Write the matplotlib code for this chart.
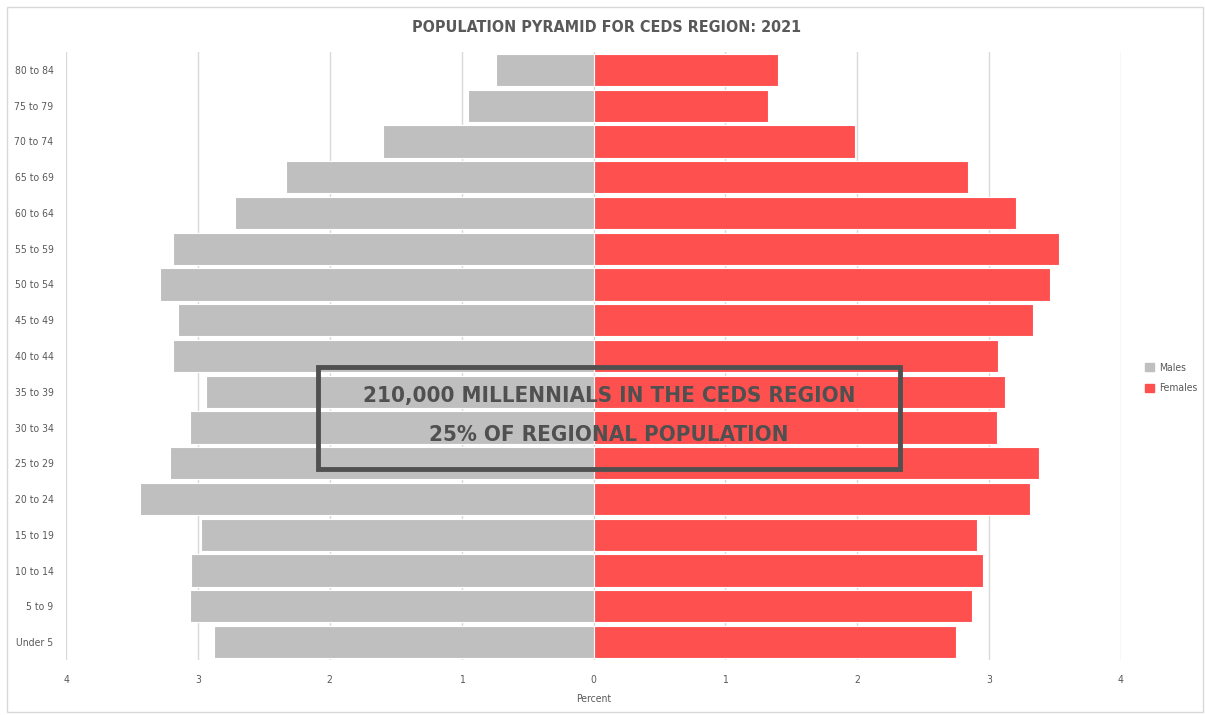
import numpy as np
import matplotlib.pyplot as plt
from matplotlib.patches import Rectangle, Patch

# Age groups, bottom to top
grupos = ['Under 5', '5 to 9', '10 to 14', '15 to 19', '20 to 24', '25 to 29',
          '30 to 34', '35 to 39', '40 to 44', '45 to 49', '50 to 54', '55 to 59',
          '60 to 64', '65 to 69', '70 to 74', '75 to 79', '80 to 84']

# Percent of total population
hombres = [2.88, 3.06, 3.05, 2.98, 3.44, 3.21, 3.06, 2.94, 3.19, 3.15, 3.29, 3.19,
           2.72, 2.33, 1.60, 0.95, 0.74]
mujeres = [2.75, 2.87, 2.95, 2.91, 3.31, 3.38, 3.06, 3.12, 3.07, 3.33, 3.46, 3.53,
           3.20, 2.84, 1.98, 1.32, 1.40]

ticks_x = [-4, -3, -2, -1, 0, 1, 2, 3, 4]

gris = '#BFBFBF'
rojo = '#FF5050'
texto = '#595959'

plt.rcParams['font.family'] = ['DejaVu Sans']
plt.rcParams['font.stretch'] = 'condensed'

fig = plt.figure(figsize=(12.05, 7.15), dpi=100)
ax = fig.add_axes([66 / 1205, 1 - 660 / 715, (1121 - 66) / 1205, 608 / 715])

y = np.arange(len(grupos))
ax.barh(y, -np.array(hombres), height=0.9, color=gris, edgecolor='white',
        linewidth=0.8, label='Males', zorder=2)
ax.barh(y, mujeres, height=0.9, color=rojo, edgecolor='white',
        linewidth=0.8, label='Females', zorder=2)

ax.set_xlim(-4, 4)
ax.set_ylim(-0.5, len(grupos) - 0.5)
ax.set_xticks(ticks_x)
ax.set_xticklabels([str(abs(t)) for t in ticks_x])
ax.set_yticks(y)
ax.set_yticklabels(grupos)
ax.tick_params(length=0, labelsize=7.5, colors=texto)
ax.tick_params(axis='x', pad=11)
ax.tick_params(axis='y', pad=9)
ax.grid(axis='x', color='#D9D9D9', linewidth=1, zorder=0)
for s in ax.spines.values():
    s.set_visible(False)
ax.set_xlabel('Percent', fontsize=7.5, color=texto, labelpad=6)

fig.text(607 / 1205, 1 - 28 / 715, 'POPULATION PYRAMID FOR CEDS REGION: 2021',
         ha='center', va='center', fontsize=11.5, fontweight='bold', color=texto)

# callout box over the millennial age groups
fig.patches.append(Rectangle((318 / 1205, 1 - 469 / 715), (900 - 318) / 1205,
                             (469 - 367) / 715, transform=fig.transFigure,
                             fill=False, edgecolor='#505050', linewidth=3.5,
                             zorder=5))
fig.text(609 / 1205, 1 - 396 / 715, '210,000 MILLENNIALS IN THE CEDS REGION',
         ha='center', va='center', fontsize=16, fontweight='bold',
         color='#505050', zorder=6)
fig.text(609 / 1205, 1 - 435 / 715, '25% OF REGIONAL POPULATION',
         ha='center', va='center', fontsize=16, fontweight='bold',
         color='#505050', zorder=6)

handles = [Patch(color=gris, label='Males'), Patch(color=rojo, label='Females')]
fig.legend(handles=handles, loc='center left',
           bbox_to_anchor=(1136 / 1205, 1 - 378 / 715), frameon=False,
           fontsize=7.5, labelcolor=texto, handlelength=0.8, handleheight=0.8,
           handletextpad=0.5, labelspacing=1.0)

# outer chart border
fig.patches.append(Rectangle((7 / 1205, 3 / 715), 1196 / 1205, 705 / 715,
                             transform=fig.transFigure, fill=False,
                             edgecolor='#D9D9D9', linewidth=1))

fig.savefig('out.png', dpi=100)
